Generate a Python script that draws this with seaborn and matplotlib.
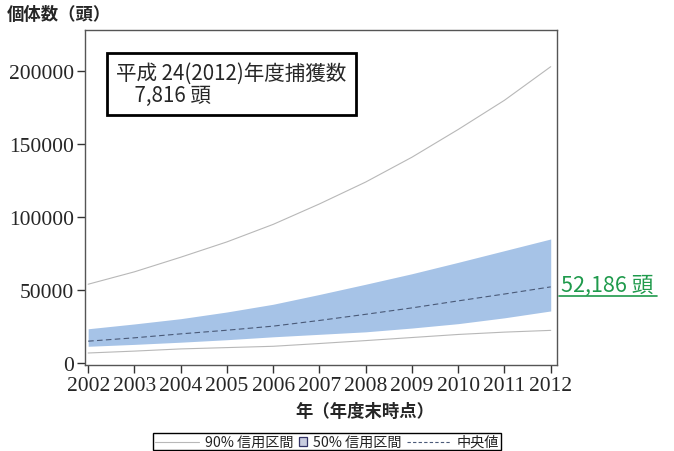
import matplotlib
matplotlib.use("Agg")
import matplotlib.pyplot as plt
import seaborn as sns
import pandas as pd
from matplotlib.lines import Line2D
from matplotlib.patches import Rectangle
from matplotlib.offsetbox import DrawingArea, TextArea, HPacker, AnchoredOffsetbox

years = list(range(2002, 2013))
median = [15000, 17300, 20000, 22500, 25300, 29200, 33400, 37800, 42600, 47300, 52186]
upper50 = [23500, 26800, 30400, 35000, 40300, 47000, 54000, 61200, 69000, 77000, 85000]
lower50 = [11500, 12800, 14300, 16000, 18000, 19700, 21400, 24000, 27000, 31000, 35700]
upper90 = [54000, 62500, 72500, 83000, 95000, 109000, 124000, 141000, 160000, 180000, 203000]
lower90 = [6900, 8200, 9700, 10600, 11500, 13400, 15400, 17500, 19600, 21200, 22400]
yticks = [0, 50000, 100000, 150000, 200000]
legend_labels = ["90% 信用区間", "50% 信用区間", "中央値"]

sns.set_style("ticks")
plt.rcParams['font.family'] = ['Noto Sans CJK JP', 'DejaVu Sans']

df = pd.DataFrame({"year": years, "median": median, "u50": upper50, "l50": lower50,
                   "u90": upper90, "l90": lower90})

fig = plt.figure(figsize=(6.74, 4.52), dpi=100)
ax = fig.add_axes([0.126, 0.190, 0.700, 0.741])

band_c = "#a6c3e7"
line90_c = "#b8b8b8"
med_c = "#4a5a78"
ax.fill_between(df["year"], df["l50"], df["u50"], color=band_c, lw=0)
sns.lineplot(data=df, x="year", y="u90", ax=ax, color=line90_c, lw=0.8)
sns.lineplot(data=df, x="year", y="l90", ax=ax, color=line90_c, lw=0.8)
sns.lineplot(data=df, x="year", y="median", ax=ax, color=med_c, lw=0.8, linestyle=(0, (5, 3)))

ax.set_xlim(2001.93, 2012.13)
ax.set_ylim(-1400, 228000)
ax.set_xticks(years)
ax.set_yticks(yticks)
ax.set_xticklabels([str(y) for y in years], family="Liberation Serif", fontsize=15.5)
ax.set_yticklabels([str(v) for v in yticks], family="Liberation Serif", fontsize=15.5)
ax.tick_params(axis="both", length=6, width=1, color="#333333", pad=2)
for s in ax.spines.values():
    s.set_color("#555555")
    s.set_linewidth(1)
ax.set_xlabel("")
ax.set_ylabel("")

fig.text(0.010, 0.966, "個体数（頭）", fontsize=12.5, fontweight="bold", va="center", ha="left")
fig.text(0.542, 0.088, "年（年度末時点）", fontsize=12.5, fontweight="bold", va="center", ha="center")

ax.text(0.066, 0.905, "平成 24(2012)年度捕獲数\n    7,816 頭", transform=ax.transAxes,
        fontsize=14.8, va="top", ha="left", linespacing=1.0,
        bbox=dict(boxstyle="square,pad=0.45", fc="white", ec="black", lw=2))

fig.text(0.832, 0.367, "52,186 頭", fontsize=15.5, color="#1f9a4c", va="center", ha="left")
fig.add_artist(Line2D([0.830, 0.975], [0.343, 0.343], color="#1f9a4c", lw=1.2))

# legend built from offset boxes (compact square handle); sizes in points
tp = dict(fontsize=10.2, color="#222222")
da1 = DrawingArea(32, 8, 0, 0)
da1.add_artist(Line2D([0, 32], [4, 4], color=line90_c, lw=0.8))
da2 = DrawingArea(6, 8, 0, 0)
da2.add_artist(Rectangle((0, 1), 6, 6, facecolor="#c9cde0", edgecolor="#333366", lw=0.9))
da3 = DrawingArea(32, 8, 0, 0)
da3.add_artist(Line2D([0, 32], [4, 4], color=med_c, lw=0.8, linestyle=(0, (3, 2))))
children = [da1, TextArea(legend_labels[0], textprops=tp),
            da2, TextArea(legend_labels[1], textprops=tp),
            da3, TextArea(legend_labels[2], textprops=tp)]
pack = HPacker(children=children, align="center", pad=0, sep=4)
anch = AnchoredOffsetbox(loc="center", child=pack, pad=0.12, borderpad=0, frameon=True,
                         bbox_to_anchor=(0.485, 0.021), bbox_transform=fig.transFigure)
anch.patch.set_boxstyle("square", pad=0)
anch.patch.set_edgecolor("black")
anch.patch.set_linewidth(1)
fig.add_artist(anch)

fig.savefig("out.png", dpi=100)
